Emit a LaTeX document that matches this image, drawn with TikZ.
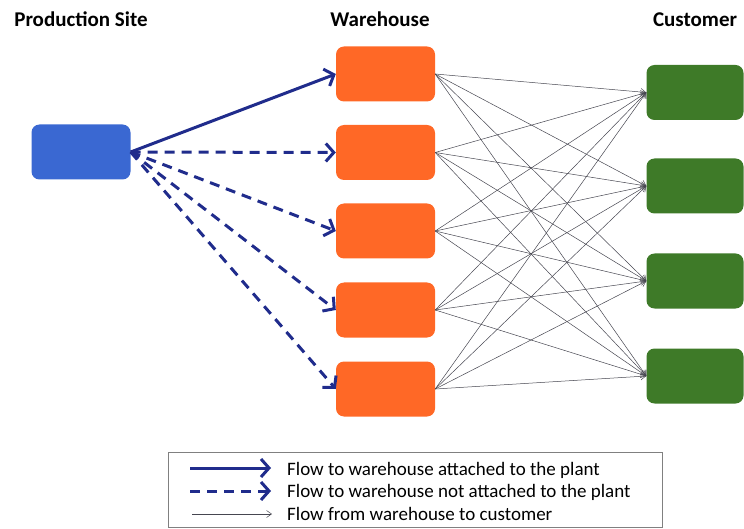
\documentclass[tikz,border=0pt]{standalone}
\usepackage{fontspec}
\setmainfont{Carlito}
\usetikzlibrary{arrows.meta}

\definecolor{siteblue}{RGB}{58,104,210}
\definecolor{whorange}{RGB}{255,104,38}
\definecolor{custgreen}{RGB}{62,122,40}
\definecolor{flowblue}{RGB}{32,44,140}
\definecolor{flowgray}{RGB}{70,70,80}

\tikzset{
  box/.style={rounded corners=8pt, minimum width=99pt, minimum height=55pt, inner sep=0pt},
  title/.style={font=\fontsize{21}{24}\selectfont\bfseries, anchor=base},
  attached/.style={draw=flowblue, line width=3pt, -{Straight Barb[length=8pt,width=18pt,line width=3pt]}},
  notattached/.style={attached, dash pattern=on 10pt off 7pt},
  tocustomer/.style={draw=flowgray, line width=0.5pt, -{Straight Barb[length=5pt,width=7pt,line width=0.5pt]}},
  legendtext/.style={font=\fontsize{19}{22}\selectfont, anchor=base west, inner sep=0pt}
}

\begin{document}
\begin{tikzpicture}[x=1pt, y=-1pt]
   \useasboundingbox (0,0) rectangle (744,529);

   % column titles
   \node[title] (tsite) at (81,27) {Production Site};
   \node[title] (twh) at (380,27) {Warehouse};
   \node[title] (tcust) at (695,27) {Customer};

   % plant
   \node[box, fill=siteblue] (site) at (81,152) {};

   % warehouses
   \node[box, fill=whorange] (wh1) at (385.5,74) {};
   \node[box, fill=whorange] (wh2) at (385.5,152.5) {};
   \node[box, fill=whorange] (wh3) at (385.5,231) {};
   \node[box, fill=whorange] (wh4) at (385.5,310) {};
   \node[box, fill=whorange] (wh5) at (385.5,389) {};

   % customers
   \node[box, fill=custgreen, minimum width=97pt] (cu1) at (695,92.5) {};
   \node[box, fill=custgreen, minimum width=97pt] (cu2) at (695,186) {};
   \node[box, fill=custgreen, minimum width=97pt] (cu3) at (695,281) {};
   \node[box, fill=custgreen, minimum width=97pt] (cu4) at (695,376) {};

   % every warehouse serves every customer
   \foreach \w in {1,...,5}
     \foreach \c in {1,...,4}
       \draw[tocustomer] (wh\w.east) -- (cu\c.west);

   % plant to warehouses
   \draw[attached] (site.east) -- (wh1.west);
   \draw[notattached] (site.east) -- (wh2.west);
   \draw[notattached] (site.east) -- (wh3.west);
   \draw[notattached] (site.east) -- (wh4.west);
   \draw[notattached] (site.east) -- (wh5.west);

   % legend
   \draw[gray, line width=0.8pt] (168,452) rectangle (662,527);
   \coordinate (la1) at (190,468);  \coordinate (lb1) at (271,468);
   \coordinate (la2) at (190,491);  \coordinate (lb2) at (271,491);
   \coordinate (la3) at (192,514);  \coordinate (lb3) at (272,514);
   \draw[attached] (la1) -- (lb1);
   \draw[notattached] (la2) -- (lb2);
   \draw[tocustomer, line width=0.7pt] (la3) -- (lb3);
   \node[legendtext] (lt1) at (287,475) {Flow to warehouse attached to the plant};
   \node[legendtext] (lt2) at (287,497.5) {Flow to warehouse not attached to the plant};
   \node[legendtext] (lt3) at (287,520) {Flow from warehouse to customer};
\end{tikzpicture}
\end{document}
